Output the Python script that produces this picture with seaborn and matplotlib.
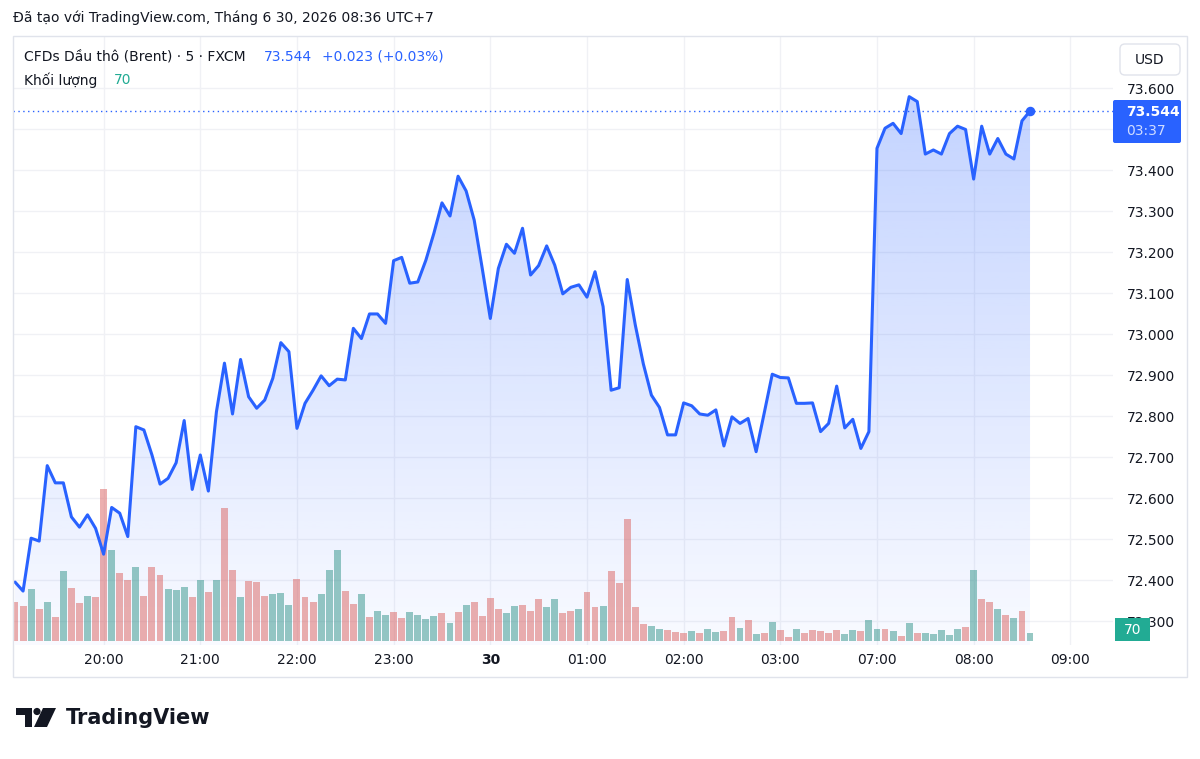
import numpy as np
import pandas as pd
import matplotlib
matplotlib.use("Agg")
import matplotlib.pyplot as plt
from matplotlib.colors import LinearSegmentedColormap
from matplotlib.patches import Rectangle, FancyBboxPatch, Circle, Polygon
import seaborn as sns

# 5-minute closes, CFD Brent (FXCM)
price = [72.395, 72.373, 72.502, 72.495, 72.679, 72.637, 72.637, 72.554, 72.529, 72.559,
         72.526, 72.463, 72.577, 72.563, 72.506, 72.774, 72.766, 72.705, 72.634, 72.648,
         72.686, 72.789, 72.621, 72.705, 72.617, 72.810, 72.929, 72.805, 72.938, 72.847,
         72.819, 72.839, 72.892, 72.979, 72.957, 72.770, 72.831, 72.863, 72.898, 72.874,
         72.890, 72.888, 73.014, 72.989, 73.049, 73.049, 73.026, 73.179, 73.187, 73.124,
         73.127, 73.180, 73.246, 73.320, 73.288, 73.385, 73.349, 73.278, 73.160, 73.038,
         73.160, 73.219, 73.197, 73.258, 73.144, 73.167, 73.215, 73.168, 73.098, 73.114,
         73.120, 73.090, 73.152, 73.067, 72.863, 72.869, 73.133, 73.022, 72.927, 72.851,
         72.821, 72.754, 72.754, 72.832, 72.825, 72.805, 72.802, 72.815, 72.727, 72.798,
         72.782, 72.794, 72.713, 72.807, 72.902, 72.894, 72.893, 72.831, 72.831, 72.832,
         72.762, 72.782, 72.873, 72.771, 72.792, 72.721, 72.762, 73.453, 73.502, 73.514,
         73.489, 73.579, 73.567, 73.439, 73.449, 73.439, 73.489, 73.507, 73.499, 73.378,
         73.507, 73.439, 73.477, 73.439, 73.427, 73.520, 73.544]

volume = [352, 319, 473, 288, 352, 221, 637, 485, 343, 410,
          400, 1380, 825, 619, 555, 671, 410, 676, 603, 473,
          464, 489, 400, 555, 449, 555, 1208, 646, 400, 546,
          537, 410, 425, 434, 328, 564, 400, 352, 425, 646,
          825, 458, 337, 428, 221, 273, 237, 264, 207, 264,
          237, 197, 225, 255, 167, 264, 328, 352, 225, 394,
          288, 255, 319, 328, 273, 379, 307, 379, 255, 273,
          288, 443, 312, 319, 640, 531, 1110, 307, 152, 137,
          109, 100, 82, 76, 91, 76, 109, 82, 91, 218,
          118, 188, 61, 76, 173, 100, 36, 109, 76, 100,
          91, 76, 100, 66, 100, 91, 188, 109, 109, 91,
          46, 167, 76, 76, 66, 100, 52, 109, 127, 646,
          379, 352, 288, 239, 207, 273, 70]

# u = close above open (teal), d = below (red)
candle = list("ddudududdudduddudddu"
              "uudududduddduuuddduu"
              "udduduudduuuudududdd"
              "duuddduudduddudddddu"
              "uddduduuddudududdudd"
              "ddduuduudududuuuuudu"
              "ddudud" "uuddudduu")[:127]

bar_times = list(pd.date_range("2026-06-29 19:05", "2026-06-30 03:55", freq="5min")) + \
            list(pd.date_range("2026-06-30 07:00", "2026-06-30 09:00", freq="5min"))

last_price = 73.544
last_change = "+0.023 (+0.03%)"
countdown = "03:37"
last_volume = 70

BLUE = "#2962FF"
TEAL = "#22AB94"
TXT = "#131722"
W, H = 1200, 759

sns.set_style("white")
plt.rcParams["font.family"] = ["DejaVu Sans"]

idx = np.arange(len(price))
df = pd.DataFrame({"idx": idx, "price": price, "vol": volume, "dir": candle[:len(price)]})

fig = plt.figure(figsize=(W / 100, H / 100), dpi=100)
ax = fig.add_axes([13 / W, 1 - 645 / H, 1100 / W, 609 / H])
axv = ax.twinx()
axl = ax.twinx()

ylo, yhi = 72.2415, 73.727
xlo, xhi = -0.25, 136.3

# gradient area under the price line
cmap = LinearSegmentedColormap.from_list("area", [(41 / 255, 98 / 255, 1, 0.03), (41 / 255, 98 / 255, 1, 0.28)])
poly = ax.fill_between(df["idx"], df["price"], ylo, color="none")
im = ax.imshow(np.linspace(0, 1, 256).reshape(-1, 1), extent=[0, idx[-1], ylo, max(price)],
               origin="lower", aspect="auto", cmap=cmap, zorder=1)
im.set_clip_path(poly.get_paths()[0], transform=ax.transData)

# volume bars
sns.barplot(data=df, x="idx", y="vol", hue="dir", palette={"u": "#26A69A", "d": "#EF5350"},
            native_scale=True, dodge=False, width=0.86, errorbar=None, legend=False,
            alpha=0.52, linewidth=0, ax=axv)
axv.set_ylim(-36.4, 5505.5)
axv.axis("off")

# price line
sns.lineplot(data=df, x="idx", y="price", color=BLUE, linewidth=2.2, sort=False, estimator=None, ax=axl)
axl.axhline(last_price, color=BLUE, lw=1, ls=(0, (1, 2.5)))
axl.scatter([idx[-1]], [last_price], s=34, color=BLUE, zorder=5)
axl.set_ylim(ylo, yhi)
axl.axis("off")

# scales, grid, ticks
ax.set_ylim(ylo, yhi)
ax.set_xlim(xlo, xhi)
for s in ax.spines.values():
    s.set_visible(False)
ax.grid(True, color="#F0F1F5", lw=1)
ax.set_axisbelow(True)
ax.set_yticks(np.round(np.arange(72.3, 73.65, 0.1), 1))
# the 73.500 label sits under the last-price tag in the original
ax.yaxis.set_major_formatter(matplotlib.ticker.FuncFormatter(
    lambda v, pos: "" if abs(v - 73.5) < 1e-6 else f"{v:.3f}"))
ax.yaxis.tick_right()
ax.tick_params(axis="y", length=0, pad=10, labelsize=10, labelcolor=TXT)
tick_pos = [i for i, t in enumerate(bar_times) if t.minute == 0]
tick_lab = ["30" if bar_times[i].hour == 0 else bar_times[i].strftime("%H:00") for i in tick_pos]
ax.set_xticks(tick_pos, tick_lab)
ax.tick_params(axis="x", length=0, pad=6, labelsize=10, labelcolor=TXT)
for lab in ax.get_xticklabels():
    if lab.get_text() == "30":
        lab.set_fontweight("bold")
ax.set_xlabel("")
ax.set_ylabel("")
ax.set_xlim(xlo, xhi)

# overlay in pixel coordinates for the TradingView chrome
ov = fig.add_axes([0, 0, 1, 1])
ov.set_xlim(0, W)
ov.set_ylim(H, 0)
ov.axis("off")

ov.text(13, 18, "Đã tạo với TradingView.com, Tháng 6 30, 2026 08:36 UTC+7", fontsize=10,
        color=TXT, va="center", ha="left")
ov.add_patch(Rectangle((13, 36), 1174, 641, fill=False, edgecolor="#E0E3EB", lw=1))

ov.text(24, 57, "CFDs Dầu thô (Brent) · 5 · FXCM", fontsize=10, color=TXT, va="center")
ov.text(264, 57, f"{last_price:.3f}", fontsize=10, color=BLUE, va="center")
ov.text(322, 57, last_change, fontsize=10, color=BLUE, va="center")
ov.text(24, 80, "Khối lượng", fontsize=10, color=TXT, va="center")
ov.text(114, 80, str(last_volume), fontsize=10, color=TEAL, va="center")

ov.add_patch(FancyBboxPatch((1120, 44), 60, 31, boxstyle="round,pad=0,rounding_size=5",
                            facecolor="white", edgecolor="#E0E3EB", lw=1))
ov.text(1150, 59.5, "USD", fontsize=10, color=TXT, ha="center", va="center")

ov.add_patch(FancyBboxPatch((1113, 100), 68, 43, boxstyle="round,pad=0,rounding_size=2",
                            facecolor=BLUE, edgecolor="none"))
ov.text(1126, 112, f"{last_price:.3f}", fontsize=10, color="white", va="center", fontweight="bold")
ov.text(1126, 131, countdown, fontsize=10, color=(1, 1, 1, 0.78), va="center")

ov.add_patch(Rectangle((1115, 618), 35, 23, facecolor=TEAL, edgecolor="none"))
ov.text(1132.5, 629.5, str(last_volume), fontsize=10, color="white", ha="center", va="center")

# logo
ov.add_patch(Rectangle((16, 708), 16, 6.5, facecolor=TXT, edgecolor="none"))
ov.add_patch(Rectangle((25, 708), 7, 19, facecolor=TXT, edgecolor="none"))
ov.add_patch(Circle((37, 711.5), 3.6, facecolor=TXT, edgecolor="none"))
ov.add_patch(Polygon([(43, 708), (56, 708), (47, 727), (34, 727)], closed=True,
                     facecolor=TXT, edgecolor="none"))
ov.text(66, 718, "TradingView", fontsize=15, fontweight="bold", color=TXT, va="center")

fig.savefig("out.png", dpi=100)
